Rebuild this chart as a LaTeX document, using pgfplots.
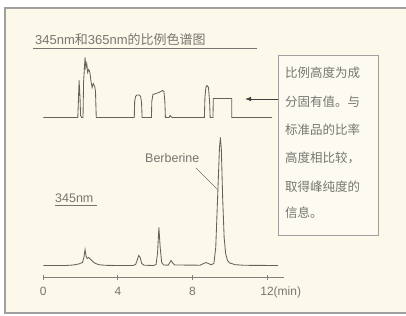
\documentclass[border=0pt]{standalone}
\usepackage{pgfplots}
\pgfplotsset{compat=1.18}
\usepackage{fontspec}
\setmainfont{Liberation Sans}
\newfontfamily\cjk{Noto Sans CJK SC}
\usetikzlibrary{arrows.meta}
\definecolor{cream}{RGB}{252,249,234}
\definecolor{boxfill}{RGB}{253,251,241}
\definecolor{trace}{RGB}{100,100,85}
\definecolor{txt}{RGB}{118,118,112}
\definecolor{frame}{RGB}{160,160,160}
\begin{document}
\begin{tikzpicture}[x=1bp,y=1bp]
\path[use as bounding box,fill=white] (0,0) rectangle (406,316);
\draw[frame,line width=1.5bp,fill=cream] (5,3) rectangle (415,308);
% title
\node[anchor=west,inner sep=0pt,text=txt,font=\fontsize{13bp}{15bp}\selectfont] at (35,276) {345nm{\cjk 和}365nm{\cjk 的比例色谱图}};
\draw[txt,line width=0.8bp] (33,268) -- (257,268);
% note box
\draw[frame,line width=0.8bp,fill=boxfill] (278,261) rectangle (378,81);
\begin{scope}[every node/.style={anchor=west,inner sep=0pt,text=txt,font=\cjk\fontsize{12.5bp}{15bp}\selectfont}]
\node at (285,243) {比例高度为成};
\node at (285,214) {分固有值。与};
\node at (285,186) {标准品的比率};
\node at (285,158) {高度相比较，};
\node at (285,129) {取得峰纯度的};
\node at (285,103) {信息。};
\end{scope}
\draw[black!75,line width=0.8bp,-{Latex[length=6bp,width=4.5bp]}] (278,217) -- (245,217);
% labels
\node[anchor=west,inner sep=0pt,text=txt,font=\fontsize{12.5bp}{15bp}\selectfont] at (145,158) {Berberine};
\draw[txt,line width=0.7bp] (196,148) -- (217,127);
\node[anchor=west,inner sep=0pt,text=txt,font=\fontsize{12.5bp}{15bp}\selectfont] at (55,118) {345nm};
\draw[txt,line width=0.7bp] (55,111) -- (97,111);
\begin{axis}[
  at={(43.3bp,38.5bp)}, anchor=south west, scale only axis,
  width=240.5bp, height=230bp,
  xmin=0, xmax=12.9, ymin=0, ymax=230,
  axis x line=bottom, axis y line=none,
  axis line style={-, draw=gray, line width=0.8bp},
  xtick={0,4,8,12}, xticklabels={0,4,8,12\rlap{(min)}},
  tick align=center, major tick length=4bp,
  tick style={draw=gray, line width=0.8bp},
  xticklabel style={text=txt, font=\fontsize{12bp}{14bp}\selectfont, yshift=-4bp},
  /pgf/number format/assume math mode=true,
  clip=false,
]
% 345 nm chromatogram
\addplot[trace, line width=0.85bp] coordinates {
(0,12) (1.2,12) (1.6,12.5) (1.9,13.5) (2.1,15) (2.18,20) (2.24,28) (2.3,21) (2.36,19) (2.42,20) (2.47,19.5) (2.55,18) (2.65,16) (2.8,14) (3.0,12.8) (3.3,12.2) (4.0,12) (4.8,12) (4.95,13) (5.05,18) (5.12,22) (5.2,20) (5.28,14) (5.4,12.3) (5.9,12) (6.05,13) (6.13,25) (6.2,50) (6.27,30) (6.35,15) (6.45,12.5) (6.7,12.3) (6.8,15.5) (6.85,17) (6.92,15) (7.05,12.5) (8.4,12.3) (8.6,14) (8.73,15) (8.85,14) (9.0,12.8) (9.15,14) (9.25,30) (9.35,80) (9.45,130) (9.5,140) (9.55,128) (9.62,80) (9.7,40) (9.78,24) (9.88,17) (10.0,14.5) (10.3,12.8) (10.8,12.2) (12.59,12)
};
% ratio chromatogram 345/365
\addplot[trace, line width=0.85bp] coordinates {
(0,160) (1.85,160) (1.88,175) (1.92,197) (1.97,180) (2.0,162) (2.06,160) (2.13,160) (2.16,195) (2.22,214) (2.24,220) (2.28,210) (2.33,214) (2.38,205) (2.44,208) (2.5,205) (2.56,196) (2.62,190) (2.68,194) (2.76,191) (2.8,186) (2.84,160) (4.88,160) (4.9,176) (4.95,181) (5.02,182.5) (5.15,182.5) (5.22,181) (5.27,175) (5.3,160) (5.8,160) (5.82,176) (5.88,183) (6.2,185) (6.4,187) (6.47,186) (6.52,176) (6.55,160) (6.75,160) (6.8,162) (6.85,161) (6.9,160) (8.64,160) (8.67,180) (8.72,190) (8.78,192) (8.86,190) (8.92,176) (8.95,160) (9.1,160) (9.12,179) (10.11,179) (10.11,160) (12.27,160)
};
\end{axis}
\end{tikzpicture}
\end{document}
